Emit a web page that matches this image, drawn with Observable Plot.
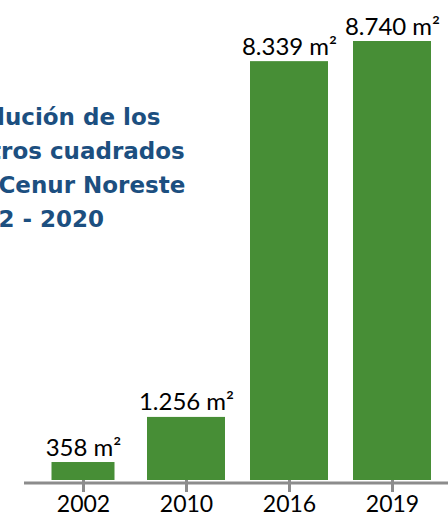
<!DOCTYPE html>
<html>
<head>
<meta charset="utf-8">
<script src="https://cdn.jsdelivr.net/npm/d3@7"></script>
<script src="https://cdn.jsdelivr.net/npm/@observablehq/plot@0.6"></script>
<style>
  html, body { margin: 0; padding: 0; background: white; }
  #chart { width: 448px; height: 518px; overflow: hidden; }
</style>
</head>
<body>
<div id="chart"></div>
<script>
const years = ["2002", "2010", "2016", "2019"];
const areas = [358, 1256, 8339, 8740];
const titleLines = ["Evolución de los", "metros cuadrados", "del Cenur Noreste", "2002 - 2020"];
const unit = " m²";

const green = "#478e36";
const gray = "#8c8c8c";
const blue = "#1c4f80";

const locale = d3.formatLocale({decimal: ",", thousands: ".", grouping: [3], currency: ["", ""]});
const fmt = locale.format(",d");

const data = years.map((y, i) => ({year: y, area: areas[i]}));

const chart = Plot.plot({
  width: 448,
  height: 518,
  marginTop: 41,
  marginBottom: 38,
  marginLeft: 0,
  marginRight: 0,
  x: {domain: years, range: [43.5, 431], paddingInner: 0.244, paddingOuter: 0},
  y: {domain: [0, 8740], axis: null},
  style: {fontFamily: "Lato, sans-serif", background: "white", color: "black"},
  marks: [
    Plot.barY(data.filter(d => d.year !== years[0]), {x: "year", y: "area", fill: green}),
    Plot.barY(data.filter(d => d.year === years[0]), {x: "year", y: "area", fill: green, insetLeft: 7.5, insetRight: 7.5}),
    Plot.ruleY([0], {stroke: gray, strokeWidth: 3, dy: 2.5, insetLeft: 24}),
    Plot.axisX({tickSize: 12, tickPadding: 3, stroke: gray, strokeWidth: 3, fill: "black", fontSize: 23, label: null}),
    Plot.text(data, {x: "year", y: "area", text: d => fmt(d.area) + unit, dy: -7, lineAnchor: "bottom", fontSize: 24, fill: "black"}),
    Plot.text([titleLines.join("\n")], {frameAnchor: "top-left", textAnchor: "start", lineAnchor: "top", dx: -50, dy: 59, fontSize: 23, fontWeight: "bold", fontFamily: "DejaVu Sans", fill: blue, lineHeight: 1.48})
  ]
});
document.getElementById("chart").appendChild(chart);
</script>
</body>
</html>
